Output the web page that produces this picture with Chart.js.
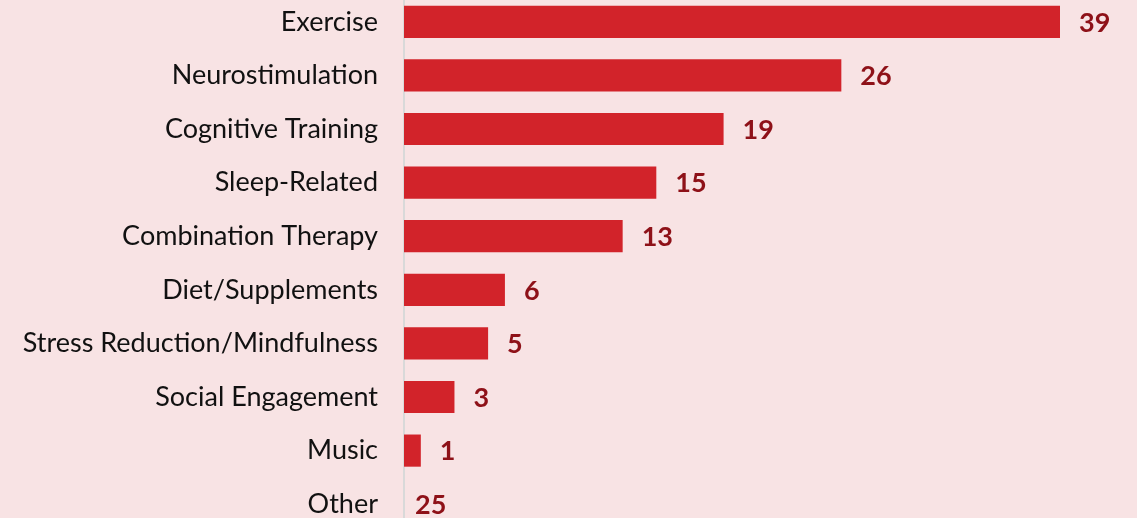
<!DOCTYPE html>
<html>
<head>
<meta charset="utf-8">
<script src="https://cdn.jsdelivr.net/npm/chart.js@4/dist/chart.umd.min.js"></script>
<style>
  html, body { margin: 0; padding: 0; background: #F8E3E4; overflow: hidden; }
  #wrap { position: absolute; left: 0; top: -5px; width: 1137px; height: 536px; }
</style>
</head>
<body>
<div id="wrap"><canvas id="chart"></canvas></div>
<script>
const categories = [
  'Exercise', 'Neurostimulation', 'Cognitive Training', 'Sleep-Related',
  'Combination Therapy', 'Diet/Supplements', 'Stress Reduction/Mindfulness',
  'Social Engagement', 'Music', 'Other'
];
// bar lengths (Other has no bar in the original)
const barValues = [39, 26, 19, 15, 13, 6, 5, 3, 1, 0];
// numbers printed next to each bar
const countLabels = ['39', '26', '19', '15', '13', '6', '5', '3', '1', '25'];

const valueLabelPlugin = {
  id: 'valueLabels',
  afterDatasetsDraw(chart) {
    const ctx = chart.ctx;
    const meta = chart.getDatasetMeta(0);
    ctx.save();
    ctx.font = 'bold 27px Lato';
    ctx.fillStyle = '#8E1118';
    ctx.textBaseline = 'middle';
    ctx.textAlign = 'left';
    meta.data.forEach((bar, i) => {
      const gap = barValues[i] > 0 ? 19 : 11;
      ctx.fillText(countLabels[i], bar.x + gap, bar.y + 1);
    });
    ctx.restore();
  }
};

new Chart(document.getElementById('chart'), {
  type: 'bar',
  data: {
    labels: categories,
    datasets: [{
      data: barValues,
      backgroundColor: '#D2232A',
      borderWidth: 0,
      categoryPercentage: 1,
      barPercentage: 0.6
    }]
  },
  options: {
    indexAxis: 'y',
    responsive: true,
    maintainAspectRatio: false,
    animation: false,
    layout: { padding: { top: 0, bottom: 0, left: 0, right: 77 } },
    plugins: {
      legend: { display: false },
      tooltip: { enabled: false }
    },
    scales: {
      x: {
        display: false,
        min: 0,
        max: 39
      },
      y: {
        afterFit(scale) {
          scale.width = 404;
          scale.paddingTop = 0;
          scale.paddingBottom = 0;
        },
        grid: { display: false, drawTicks: false },
        border: { display: true, color: '#D9D9D9', width: 2 },
        ticks: {
          color: '#111111',
          font: { family: 'Lato', size: 27 },
          padding: 26
        }
      }
    }
  },
  plugins: [valueLabelPlugin]
});
</script>
</body>
</html>
